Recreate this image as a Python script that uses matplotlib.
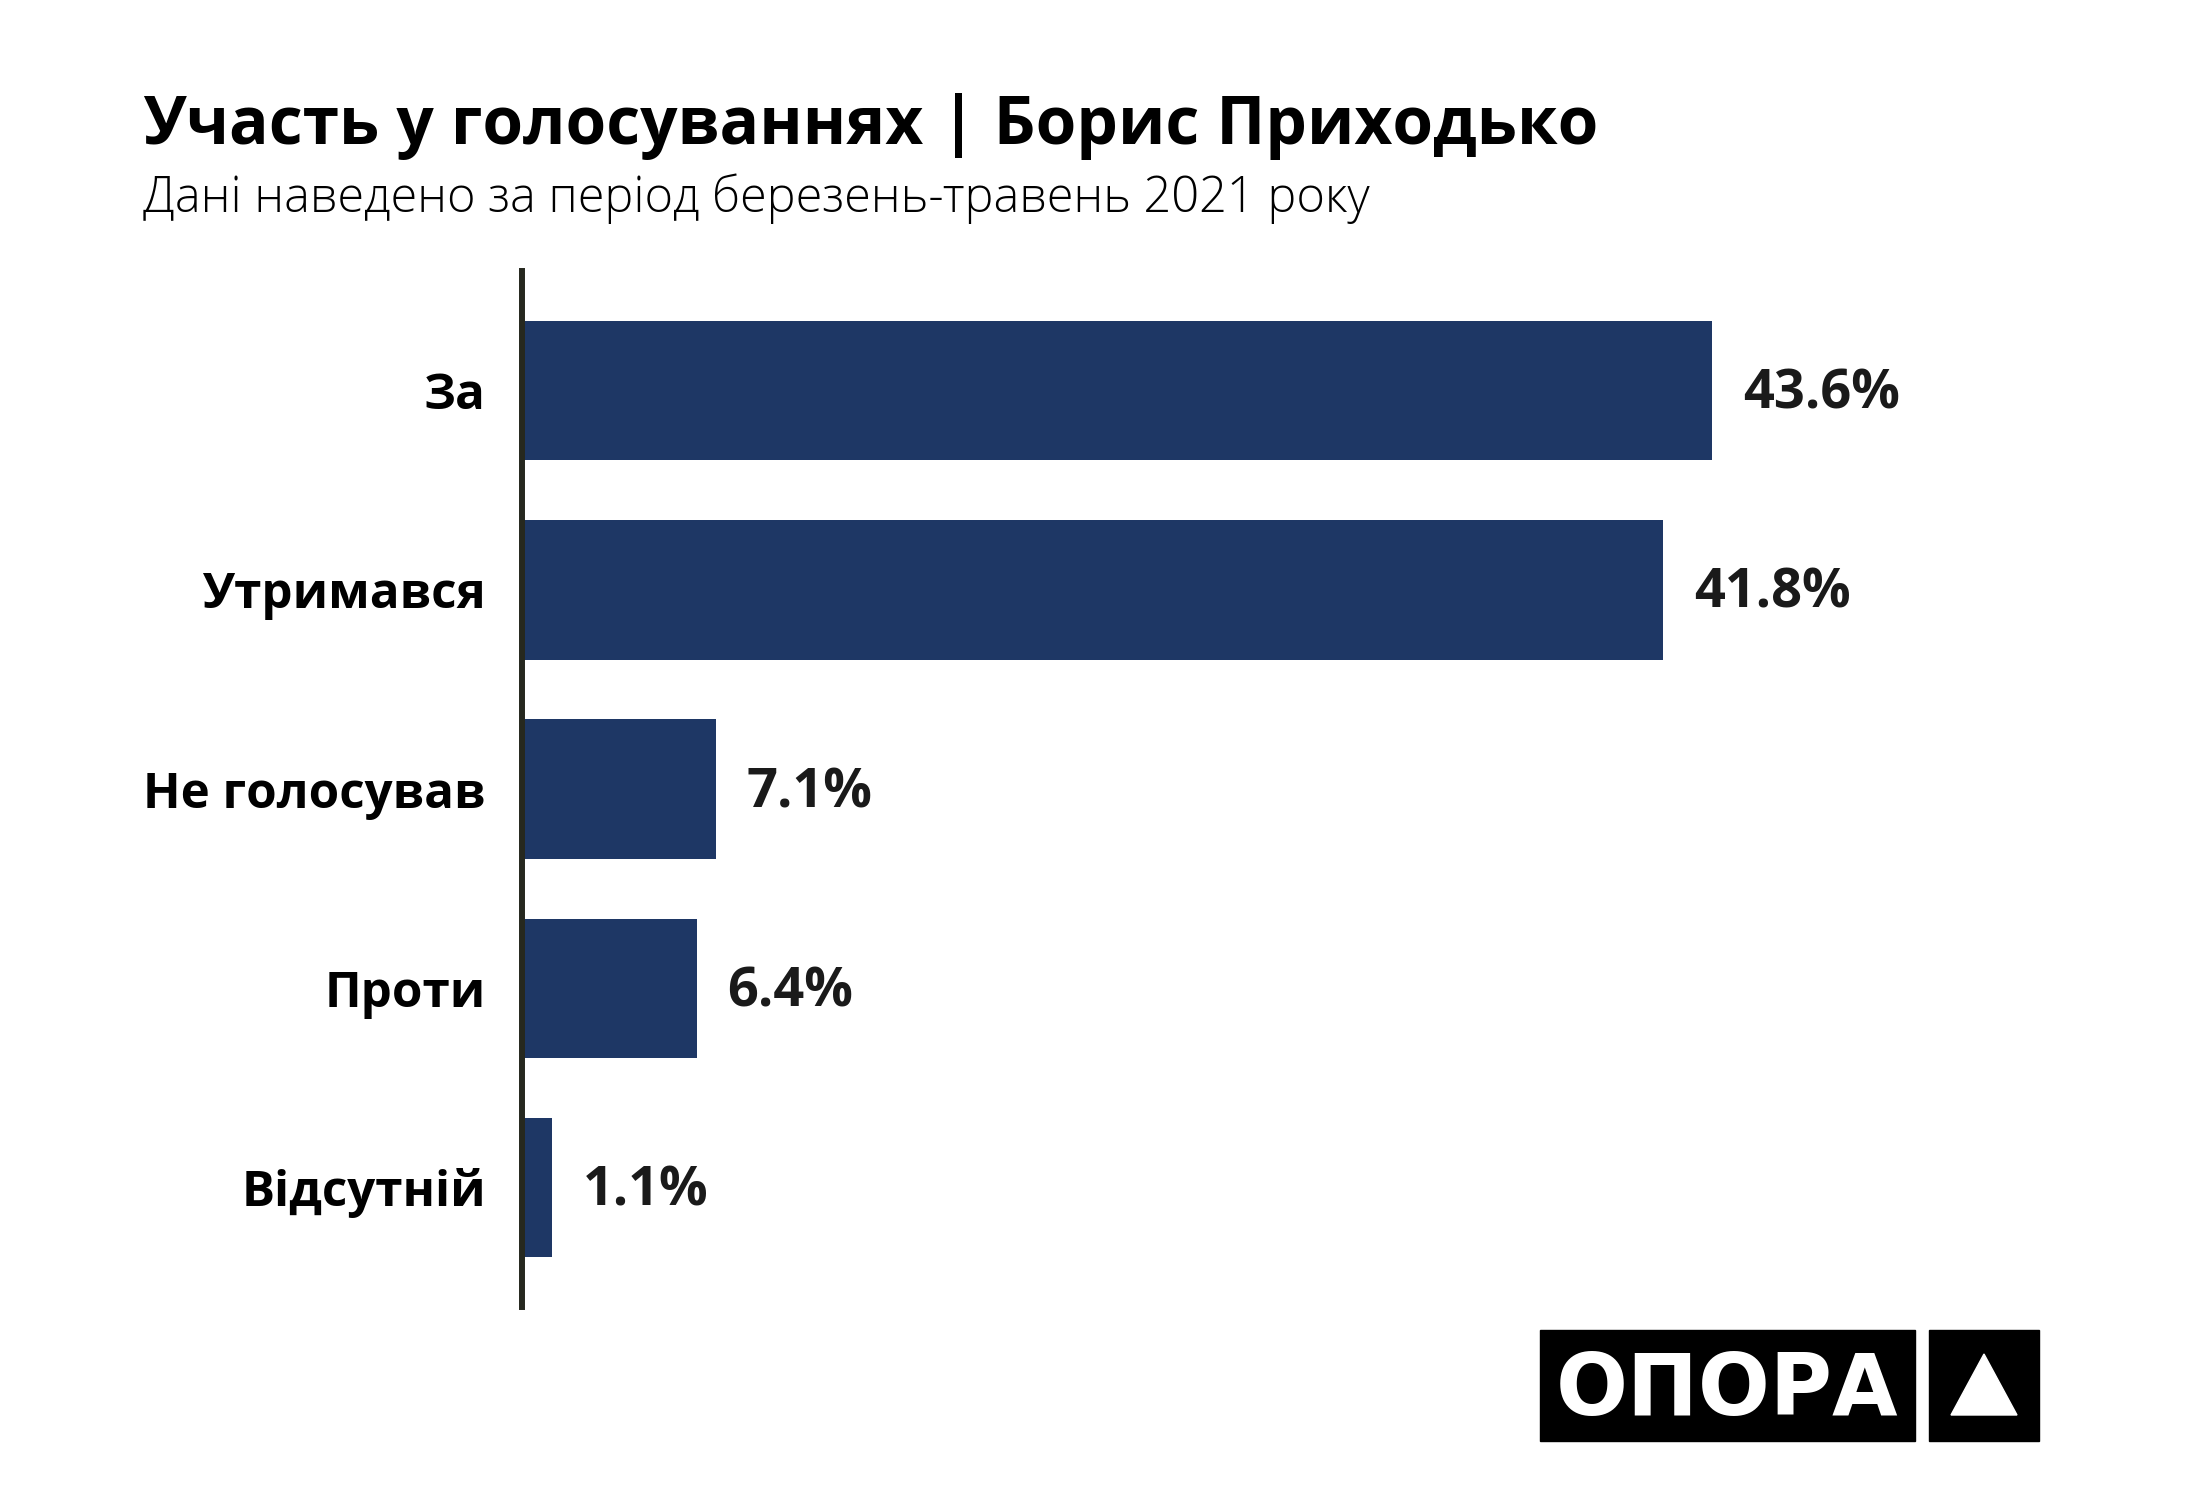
import matplotlib.pyplot as plt
from matplotlib.patches import Rectangle, Polygon

categories = ["За", "Утримався", "Не голосував", "Проти", "Відсутній"]
values = [43.6, 41.8, 7.1, 6.4, 1.1]
value_labels = ["43.6%", "41.8%", "7.1%", "6.4%", "1.1%"]

title = "Участь у голосуваннях | Борис Приходько"
subtitle = "Дані наведено за період березень-травень 2021 року"

plt.rcParams['font.family'] = ['Open Sans', 'DejaVu Sans']

fig = plt.figure(figsize=(22, 15), dpi=100)
fig.patch.set_facecolor('white')

# axes: left edge at the dark axis line
ax = fig.add_axes([522/2200, 1 - 1307/1500, 1365/2200, 1036/1500])
ypos = list(range(len(categories)))
ax.barh(ypos, values, height=0.70, color='#1e3765', zorder=1)
ax.set_xlim(0, 50)
ax.set_ylim(4.6, -0.6)

for s in ['top', 'right', 'bottom']:
    ax.spines[s].set_visible(False)
ax.spines['left'].set_linewidth(4.3)
ax.spines['left'].set_color('#26281f')
ax.spines['left'].set_zorder(3)
ax.set_xticks([])
ax.set_yticks(ypos)
ax.set_yticklabels(categories, fontsize=35.5, fontweight='bold', color='black')
ax.tick_params(axis='y', length=0, pad=26)

for y, v, lab in zip(ypos, values, value_labels):
    ax.annotate(lab, (v, y), xytext=(22, -3), textcoords='offset points',
                va='center', ha='left', fontsize=39, fontweight='bold', color='#1a1a1a')

fig.text(143/2200, 1 - 144/1500, title, fontsize=47.3, fontweight='bold',
         color='black', ha='left', va='baseline')
fig.text(143/2200, 1 - 212/1500, subtitle, fontsize=35, fontweight='light',
         color='black', ha='left', va='baseline')

# logo
fig.patches.append(Rectangle((1540/2200, 1 - 1441/1500), 375/2200, 111/1500,
                             transform=fig.transFigure, color='black'))
fig.patches.append(Rectangle((1929/2200, 1 - 1441/1500), 110/2200, 111/1500,
                             transform=fig.transFigure, color='black'))
fig.patches.append(Polygon([(1951/2200, 1 - 1415/1500), (2017/2200, 1 - 1415/1500),
                            (1984/2200, 1 - 1354/1500)],
                           transform=fig.transFigure, color='white'))
fig.text(1727/2200, 1 - 1415/1500, "ОПОРА", family=['DejaVu Sans'],
         fontsize=61, fontweight='bold', color='white', ha='center', va='baseline')

fig.savefig('out.png', dpi=100)
